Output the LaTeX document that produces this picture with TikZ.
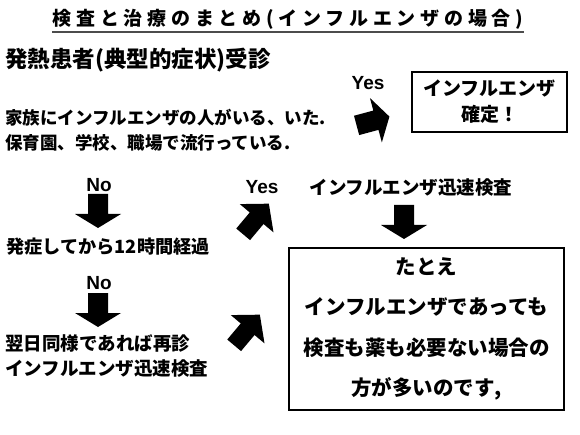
\documentclass[tikz,border=0pt]{standalone}
\usepackage{fontspec}
\usepackage{tikz}
\usetikzlibrary{positioning,calc}
\newfontfamily\jpfont{Noto Sans CJK JP}
\newfontfamily\ttlfont{Noto Sans CJK JP}[LetterSpace=25]
\newfontfamily\lblfont{Liberation Sans}

\tikzset{
  pics/blkarrow/.style={code={
    \fill (-17,-10) -- (3,-10) -- (3,-23) -- (17,0) -- (3,23) -- (3,10) -- (-17,10) -- cycle;
  }},
  pics/bentarrow/.style={code={
    \fill (-20,-9) -- (1,-9) -- (1,-22) -- (20,0) -- (1,22) -- (1,9) -- (-20,9) -- cycle;
  }}
}

\begin{document}
\begin{tikzpicture}[x=1pt, y=-1pt,
  every node/.style={inner sep=0pt, font=\jpfont\bfseries},
  ttl/.style={font=\ttlfont\bfseries\fontsize{19}{22}\selectfont},
  body/.style={anchor=west, align=left, font=\jpfont\bfseries\fontsize{17.5}{25}\selectfont},
  lbl/.style={font=\lblfont\bfseries\fontsize{19}{22}\selectfont},
  res/.style={rectangle, draw=black, line width=1.4pt, align=center}
]
  \useasboundingbox (0,0) rectangle (580,435);

  % title
  \node[ttl] (ttl) at (288,19) {検査と治療のまとめ(インフルエンザの場合)};
  \coordinate (ul) at (0,32);
  \draw[line width=1.6pt, black!70] (ttl.west |- ul) -- (ttl.east |- ul);

  % patient
  \node[body, font=\jpfont\bfseries\fontsize{22.5}{26}\selectfont] (pat) at (5,60) {発熱患者(典型的症状)受診};
  \node[body] (fam) at (5,130) {家族にインフルエンザの人がいる、いた.\\保育園、学校、職場で流行っている.};

  \node[lbl] (yes1) at (368,83) {Yes};
  \pic[rotate=15] (arr1) at (373,121) {blkarrow};
  \node[res, minimum width=155pt, minimum height=60pt,
        font=\jpfont\bfseries\fontsize{19}{26}\selectfont] (conf) at (489.5,102) {インフルエンザ\\確定！};

  % no branch
  \node[lbl] (no1) at (99,185) {No};
  \pic[rotate=-90] (dn1) at (98,211) {blkarrow};
  \node[body, font=\jpfont\bfseries\fontsize{18.2}{25}\selectfont] (onset) at (6,247) {発症してから12時間経過};

  \node[lbl] (no2) at (99,283) {No};
  \pic[rotate=-90] (dn2) at (98,310) {blkarrow};
  \node[body, font=\jpfont\bfseries\fontsize{18.5}{25}\selectfont] (next) at (5,356) {翌日同様であれば再診\\インフルエンザ迅速検査};

  % yes branch
  \node[lbl] (yes2) at (262,187) {Yes};
  \pic[rotate=50] (arr2) at (256,219) {bentarrow};
  \pic[rotate=50] (arr3) at (247,330) {bentarrow};

  \node[font=\jpfont\bfseries\fontsize{18.5}{22}\selectfont] (rapid) at (411,188) {インフルエンザ迅速検査};
  \pic[rotate=-90] (dn3) at (404,222) {blkarrow};
  \node[res, minimum width=275pt, minimum height=162pt,
        font=\jpfont\bfseries\fontsize{20.5}{40.5}\selectfont] (note) at (426.5,329)
        {たとえ\\インフルエンザであっても\\検査も薬も必要ない場合の\\方が多いのです,};
\end{tikzpicture}
\end{document}
